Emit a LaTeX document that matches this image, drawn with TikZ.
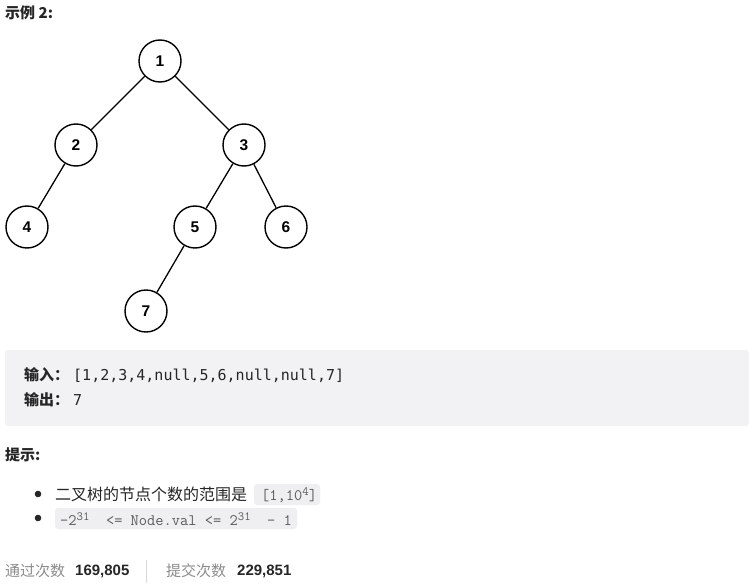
\documentclass[tikz,border=0pt]{standalone}
\usepackage{fontspec}
\setmainfont{Liberation Sans}
\newfontfamily\cjk{Noto Sans CJK SC}
\newfontfamily\codefont{DejaVu Sans Mono}
\definecolor{boxbg}{HTML}{F2F2F5}
\definecolor{codebg}{HTML}{EFEFF1}
\definecolor{txt}{HTML}{262626}
\definecolor{muted}{HTML}{8C8C8C}
\newcommand{\supn}[1]{\raisebox{5.5pt}{\fontsize{12.5}{12}\selectfont #1}}
\tikzset{
  treenode/.style={circle, draw=black, line width=1.4pt, minimum size=42pt, inner sep=0pt, font=\fontsize{15.5}{15.5}\selectfont\bfseries},
  edge/.style={draw=black, line width=1.3pt},
  lbl/.style={anchor=west, inner sep=0pt, text=txt},
}
\begin{document}
\begin{tikzpicture}[x=1pt,y=-1pt]
\useasboundingbox (0,0) rectangle (754,583);
\fill[white] (0,0) rectangle (754,583);
% title
\node[lbl] (title) at (5,13) {\cjk\fontsize{15}{15}\selectfont\bfseries 示例 2:};
% tree
\node[treenode] (n1) at (160,61) {1};
\node[treenode] (n2) at (76,145) {2};
\node[treenode] (n3) at (244,145) {3};
\node[treenode] (n4) at (27,227) {4};
\node[treenode] (n5) at (195,227) {5};
\node[treenode] (n6) at (286,227) {6};
\node[treenode] (n7) at (146,311) {7};
\draw[edge] (n1) -- (n2);
\draw[edge] (n1) -- (n3);
\draw[edge] (n2) -- (n4);
\draw[edge] (n3) -- (n5);
\draw[edge] (n3) -- (n6);
\draw[edge] (n5) -- (n7);
% example box
\fill[boxbg, rounded corners=3pt] (5,350) rectangle (749,426);
\node[lbl] (in) at (24,375) {\cjk\fontsize{15}{15}\selectfont\bfseries 输入：\hspace{4pt}\codefont\mdseries\fontsize{15}{15}\selectfont[1,2,3,4,null,5,6,null,null,7]};
\node[lbl] (out) at (24,400) {\cjk\fontsize{15}{15}\selectfont\bfseries 输出：\hspace{4pt}\codefont\mdseries\fontsize{15}{15}\selectfont 7};
% hints
\node[lbl] (hint) at (5,455) {\cjk\fontsize{15}{15}\selectfont\bfseries 提示:};
\fill[txt] (38,494) circle (3.3pt);
\fill[txt] (38,518) circle (3.3pt);
\node[lbl] (h1) at (55,494) {\cjk\fontsize{16}{16}\selectfont 二叉树的节点个数的范围是};
\fill[codebg, rounded corners=3pt] (254,484) rectangle (320,505);
\node[lbl] (c1) at (261,495) {\ttfamily\fontsize{16}{16}\selectfont\color{txt!75}[1,10\supn{4}]};
\fill[codebg, rounded corners=3pt] (55,508) rectangle (297,529);
\node[lbl] (c2) at (60,519) {\ttfamily\fontsize{16}{16}\selectfont\color{txt!75}-2\supn{31}\ \ <= Node.val <= 2\supn{31}\ \ - 1};
% footer
\node[lbl, text=muted] (f1) at (5,571) {\cjk\fontsize{15}{15}\selectfont 通过次数};
\node[lbl] (f2) at (75,571) {\fontsize{15}{15}\selectfont\bfseries 169,805};
\draw[gray!30, line width=1pt] (146,560) -- (146,583);
\node[lbl, text=muted] (f3) at (166,571) {\cjk\fontsize{15}{15}\selectfont 提交次数};
\node[lbl] (f4) at (237,571) {\fontsize{15}{15}\selectfont\bfseries 229,851};
\end{tikzpicture}
\end{document}
